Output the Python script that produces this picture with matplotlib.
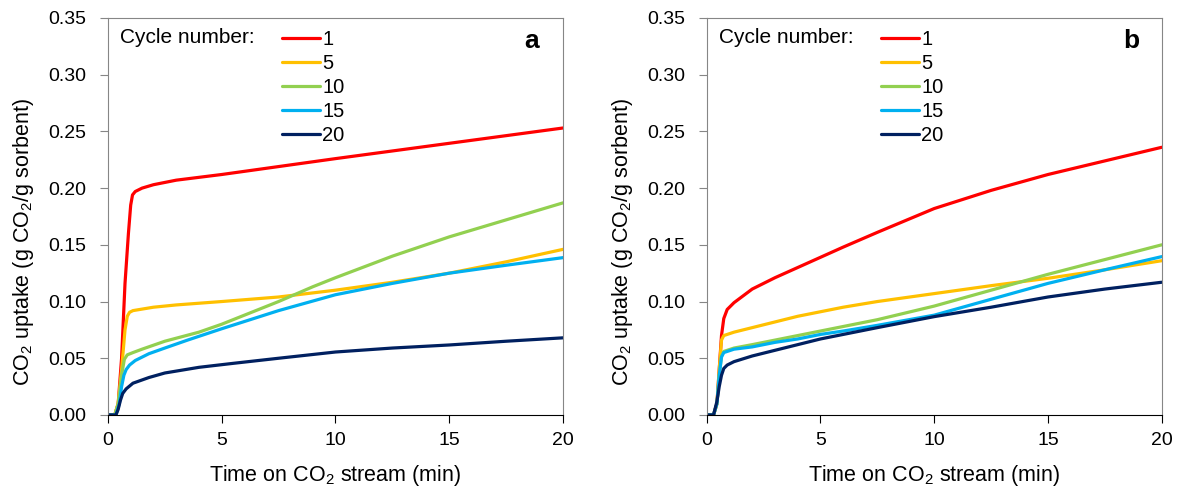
import matplotlib
matplotlib.use('Agg')
import matplotlib.pyplot as plt

plt.rcParams['font.family'] = ['Liberation Sans', 'DejaVu Sans']
plt.rcParams['mathtext.fontset'] = 'custom'
plt.rcParams['mathtext.rm'] = 'Liberation Sans'

cycles = ['1', '5', '10', '15', '20']
colors = ['#FF0000', '#FFC000', '#92D050', '#00B0F0', '#002060']

# panel a (time in min, uptake in g CO2 / g sorbent)
a_t1 = [0, 0.3, 0.45, 0.6, 0.75, 0.9, 1.0, 1.08, 1.2, 1.5, 2, 3, 5, 7.5, 10, 15, 20]
a_c1 = [0, 0, 0.01, 0.05, 0.116, 0.16, 0.185, 0.194, 0.197, 0.200, 0.203, 0.207, 0.212, 0.219, 0.226, 0.2395, 0.253]
a_t5 = [0, 0.3, 0.45, 0.6, 0.75, 0.85, 0.95, 1.1, 1.4, 2, 3, 5, 7.5, 10, 12.5, 15, 17.5, 20]
a_c5 = [0, 0, 0.01, 0.04, 0.075, 0.087, 0.0905, 0.092, 0.093, 0.095, 0.097, 0.100, 0.104, 0.110, 0.117, 0.125, 0.135, 0.146]
a_t10 = [0, 0.3, 0.45, 0.6, 0.72, 0.85, 1.1, 1.5, 2.5, 4, 5, 6, 7.5, 9, 10, 12.5, 15, 17.5, 20]
a_c10 = [0, 0, 0.01, 0.035, 0.049, 0.053, 0.055, 0.058, 0.065, 0.073, 0.080, 0.088, 0.100, 0.113, 0.121, 0.140, 0.157, 0.172, 0.187]
a_t15 = [0, 0.35, 0.5, 0.6, 0.7, 0.8, 0.95, 1.2, 1.8, 2.5, 3.5, 5, 7.5, 10, 12.5, 15, 17.5, 20]
a_c15 = [0, 0, 0.01, 0.025, 0.035, 0.040, 0.044, 0.048, 0.054, 0.059, 0.066, 0.076, 0.092, 0.106, 0.116, 0.125, 0.132, 0.1387]
a_t20 = [0, 0.35, 0.45, 0.55, 0.65, 0.8, 1.1, 1.8, 2.5, 4, 5.5, 7.5, 10, 12.5, 15, 17.5, 20]
a_c20 = [0, 0, 0.005, 0.013, 0.019, 0.023, 0.028, 0.033, 0.037, 0.042, 0.0455, 0.050, 0.0555, 0.059, 0.0617, 0.065, 0.068]

# panel b
b_t = [0, 0.3, 0.45, 0.55, 0.65, 0.75, 0.9, 1.2, 2, 3, 4, 5, 6, 7.5, 10, 12.5, 15, 17.5, 20]
b_c1 = [0, 0, 0.01, 0.04, 0.07, 0.085, 0.093, 0.099, 0.111, 0.121, 0.130, 0.139, 0.148, 0.161, 0.182, 0.198, 0.212, 0.224, 0.236]
b_c5 = [0, 0, 0.01, 0.04, 0.066, 0.070, 0.071, 0.073, 0.077, 0.082, 0.087, 0.091, 0.095, 0.100, 0.107, 0.114, 0.1205, 0.128, 0.136]
b_c10 = [0, 0, 0.01, 0.035, 0.052, 0.056, 0.057, 0.059, 0.062, 0.066, 0.070, 0.074, 0.078, 0.084, 0.096, 0.110, 0.124, 0.137, 0.150]
b_c15 = [0, 0, 0.01, 0.035, 0.051, 0.055, 0.056, 0.058, 0.060, 0.064, 0.067, 0.071, 0.074, 0.079, 0.088, 0.102, 0.116, 0.128, 0.1396]
b_c20 = [0, 0, 0.012, 0.025, 0.035, 0.041, 0.044, 0.047, 0.052, 0.057, 0.062, 0.067, 0.071, 0.077, 0.0867, 0.095, 0.104, 0.111, 0.117]

panelA = [(a_t1, a_c1), (a_t5, a_c5), (a_t10, a_c10), (a_t15, a_c15), (a_t20, a_c20)]
panelB = [(b_t, b_c1), (b_t, b_c5), (b_t, b_c10), (b_t, b_c15), (b_t, b_c20)]


def drawPanel(ax, series, letter):
    for (t, c), col, lab in zip(series, colors, cycles):
        ax.plot(t, c, color=col, lw=2.3, label=lab, solid_capstyle='round', solid_joinstyle='round')
    ax.set_xlim(0, 20)
    ax.set_ylim(0, 0.35)
    ax.set_xticks([0, 5, 10, 15, 20])
    ax.set_yticks([0.0, 0.05, 0.10, 0.15, 0.20, 0.25, 0.30, 0.35])
    ax.set_yticklabels([f'{v:.2f}' for v in ax.get_yticks()])
    for s in ['top', 'right', 'left']:
        ax.spines[s].set_color('#868686')
    ax.spines['bottom'].set_color('black')
    ax.tick_params(axis='both', direction='out', length=5.5, labelsize=14)
    ax.tick_params(axis='y', color='#868686', pad=10)
    ax.tick_params(axis='x', pad=7)
    ax.set_xlabel('Time on CO$_\\mathregular{2}$ stream (min)', fontsize=15.5, va='center')
    ax.xaxis.set_label_coords(0.5, -0.152)
    ax.set_ylabel('CO$_\\mathregular{2}$ uptake (g CO$_\\mathregular{2}$/g sorbent)', fontsize=15.5, va='center')
    ax.yaxis.set_label_coords(-0.185, 0.435)
    ax.text(0.026, 0.95, 'Cycle number:', transform=ax.transAxes, fontsize=15, va='center')
    ax.text(0.932, 0.942, letter, transform=ax.transAxes, fontsize=19, fontweight='bold', va='center', ha='center')
    ax.legend(loc='upper left', bbox_to_anchor=(0.365, 0.99), frameon=False, fontsize=14.5,
              handlelength=1.9, handletextpad=0.1, labelspacing=0.25, borderaxespad=0)


fig = plt.figure(figsize=(11.81, 4.94), dpi=100)
ax1 = fig.add_axes([0.0914, 0.16, 0.3853, 0.8036])
ax2 = fig.add_axes([0.5984, 0.16, 0.3853, 0.8036])
drawPanel(ax1, panelA, 'a')
drawPanel(ax2, panelB, 'b')

plt.savefig('out.png', dpi=100)
